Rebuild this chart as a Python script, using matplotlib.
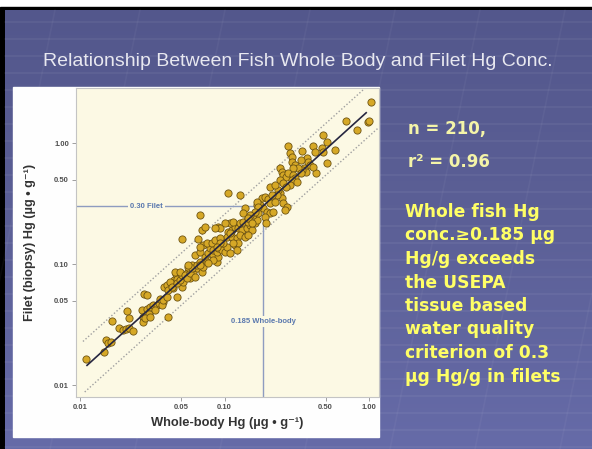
import numpy as np
import matplotlib.pyplot as plt
from matplotlib.patches import Rectangle
from matplotlib.colors import LinearSegmentedColormap
from matplotlib.ticker import NullLocator

# =========================
# Paired Hg samples (ug/g)
# =========================
whole_body = [
    0.0110, 0.0147, 0.0151, 0.0156, 0.0164, 0.0166, 0.0185, 0.0198, 0.0208, 0.0218,
    0.0233, 0.0211, 0.0218, 0.0268, 0.0273, 0.0273, 0.0291, 0.0305, 0.0320, 0.0300,
    0.0277, 0.0291, 0.0341, 0.0352, 0.0375, 0.0358, 0.0406, 0.0381, 0.0399, 0.0426,
    0.0440, 0.0447, 0.0461, 0.0469, 0.0469, 0.0508, 0.0516, 0.0549, 0.0576, 0.0605,
    0.0644, 0.0595, 0.0281, 0.0305, 0.0330, 0.0369, 0.0375, 0.0399, 0.0406, 0.0419,
    0.0433, 0.0469, 0.0492, 0.0508, 0.0454, 0.0492, 0.0532, 0.0549, 0.0576, 0.0624,
    0.0558, 0.0595, 0.0644, 0.0676, 0.0698, 0.0709, 0.0624, 0.0676, 0.0732, 0.0758,
    0.0770, 0.0795, 0.0709, 0.0758, 0.0820, 0.0860, 0.0833, 0.0887, 0.0901, 0.0833,
    0.0887, 0.0901, 0.0960, 0.101, 0.104, 0.0975, 0.0508, 0.0655, 0.0676, 0.0698,
    0.0676, 0.0732, 0.0901, 0.0930, 0.106, 0.113, 0.118, 0.124, 0.132, 0.143,
    0.151, 0.163, 0.168, 0.156, 0.109, 0.115, 0.128, 0.135, 0.145, 0.104,
    0.113, 0.122, 0.128, 0.139, 0.145, 0.118, 0.124, 0.139, 0.145, 0.168,
    0.158, 0.171, 0.106, 0.128, 0.0930, 0.0833, 0.0770, 0.0676, 0.0558, 0.0860,
    0.101, 0.109, 0.0930, 0.0887, 0.122, 0.109, 0.115, 1.03, 0.985, 1.00,
    0.828, 0.695, 0.582, 0.512, 0.481, 0.473, 0.481, 0.410, 0.512, 0.429,
    0.343, 0.275, 0.283, 0.292, 0.371, 0.377, 0.391, 0.410, 0.354, 0.365,
    0.343, 0.292, 0.307, 0.323, 0.297, 0.242, 0.250, 0.254, 0.267, 0.275,
    0.297, 0.307, 0.292, 0.317, 0.283, 0.338, 0.242, 0.254, 0.267, 0.207,
    0.242, 0.250, 0.254, 0.271, 0.263, 0.234, 0.230, 0.182, 0.191, 0.200,
    0.207, 0.213, 0.223, 0.176, 0.185, 0.197, 0.207, 0.216, 0.168, 0.171,
    0.163, 0.135, 0.151, 0.145, 0.191, 0.194, 0.156, 0.423, 0.338, 0.223,
]
filet = [
    0.0164, 0.0187, 0.0235, 0.0222, 0.0227, 0.0338, 0.0296, 0.0285, 0.0290, 0.0296,
    0.0279, 0.0409, 0.0358, 0.0416, 0.0365, 0.0331, 0.0424, 0.0441, 0.0458, 0.0386,
    0.0565, 0.0554, 0.0458, 0.0476, 0.0485, 0.0513, 0.0365, 0.0645, 0.0670, 0.0696,
    0.0633, 0.0737, 0.0826, 0.0752, 0.0533, 0.0645, 0.0710, 0.0843, 0.0766, 0.0859,
    0.0926, 0.0981, 0.0358, 0.0365, 0.0416, 0.0458, 0.0504, 0.0533, 0.0609, 0.0710,
    0.0645, 0.0696, 0.0737, 0.0811, 0.0859, 0.0859, 0.0811, 0.0766, 0.0843, 0.0781,
    0.0944, 0.0926, 0.0981, 0.104, 0.0859, 0.0944, 0.119, 0.126, 0.115, 0.104,
    0.124, 0.136, 0.144, 0.150, 0.150, 0.158, 0.119, 0.104, 0.115, 0.131,
    0.126, 0.136, 0.131, 0.126, 0.139, 0.150, 0.161, 0.161, 0.139, 0.191,
    0.254, 0.202, 0.202, 0.198, 0.184, 0.191, 0.202, 0.198, 0.191, 0.198,
    0.210, 0.218, 0.231, 0.191, 0.218, 0.222, 0.218, 0.222, 0.222, 0.167,
    0.167, 0.164, 0.174, 0.167, 0.174, 0.144, 0.150, 0.291, 0.240, 0.308,
    0.254, 0.264, 0.387, 0.372, 0.164, 0.108, 0.102, 0.0981, 0.0981, 0.198,
    0.218, 0.181, 0.150, 0.139, 0.131, 0.124, 0.150, 2.19, 1.49, 1.52,
    1.29, 1.52, 0.877, 1.02, 1.17, 0.910, 0.844, 0.946, 0.685, 0.566,
    0.860, 0.946, 0.828, 0.767, 0.752, 0.698, 0.659, 0.634, 0.622, 0.577,
    0.599, 0.698, 0.659, 0.622, 0.622, 0.622, 0.577, 0.545, 0.525, 0.566,
    0.545, 0.515, 0.496, 0.477, 0.450, 0.566, 0.496, 0.468, 0.433, 0.433,
    0.387, 0.351, 0.320, 0.296, 0.280, 0.409, 0.372, 0.351, 0.358, 0.344,
    0.320, 0.372, 0.326, 0.308, 0.291, 0.269, 0.264, 0.269, 0.326, 0.296,
    0.269, 0.264, 0.254, 0.240, 0.245, 0.218, 0.218, 0.844, 0.725, 0.450,
]

# regression line and prediction band end points
fit_x = [0.0112, 0.954]
fit_y = [0.0146, 1.78]
upper_x = [0.0105, 0.97]
upper_y = [0.0230, 2.95]
lower_x = [0.0108, 1.17]
lower_y = [0.0088, 1.35]

# USEPA criterion and equivalent whole-body value
wb_criterion = 0.185
filet_criterion = 0.30

tick_vals = [0.01, 0.05, 0.10, 0.50, 1.00]
tick_labels = ["0.01", "0.05", "0.10", "0.50", "1.00"]

notes = [
    "Whole fish Hg",
    "conc.\u22650.185 \u00b5g",
    "Hg/g exceeds",
    "the USEPA",
    "tissue based",
    "water quality",
    "criterion of 0.3",
    "\u00b5g Hg/g in filets",
]

W, H = 592, 449
cream = "#fcf9e4"
sans = ["Liberation Sans", "DejaVu Sans"]

fig = plt.figure(figsize=(W / 100, H / 100), dpi=100)
fig.patch.set_facecolor("white")

# -------------------------
# Slide background
# -------------------------
bg = fig.add_axes([0, 0, 1, 1])
bg.set_xlim(0, W)
bg.set_ylim(H, 0)
bg.axis("off")
bg.add_patch(Rectangle((0, 7), W, H - 7, color="black", zorder=0))
grad = np.linspace(0, 1, 256).reshape(-1, 1)
slide_cmap = LinearSegmentedColormap.from_list("slide", ["#53578c", "#5c6097", "#666ba8"])
bg.imshow(grad, extent=(5, W, H, 10), cmap=slide_cmap, aspect="auto", zorder=1)

# faint grid on the slide
for y in np.arange(22, H, 17):
    bg.plot([5, W], [y, y], color="white", alpha=0.06, lw=1.2, zorder=1.5)
for x0 in np.arange(-120, W + 200, 85):
    bg.plot([x0, x0 + 90], [H, 10], color="white", alpha=0.04, lw=1.2, zorder=1.5)

# white panel holding the chart
bg.add_patch(Rectangle((13, 87), 366, 350, color="#fefefe", zorder=2))

fig.text(298 / W, 1 - 62 / H, "Relationship Between Fish Whole Body and Filet Hg Conc.",
         ha="center", va="center", fontsize=14, color="#e8e8f0", family=sans)

# -------------------------
# Scatter plot
# -------------------------
ax = fig.add_axes([76 / W, 1 - 397 / H, 303 / W, 309 / H])
ax.set_facecolor(cream)
ax.set_xscale("log")
ax.set_yscale("log")
ax.set_xlim(0.0094, 1.17)
ax.set_ylim(0.0080, 2.85)

ax.plot(upper_x, upper_y, color="#a0a0a0", lw=1, ls=(0, (1, 1.5)), zorder=2)
ax.plot(lower_x, lower_y, color="#a0a0a0", lw=1, ls=(0, (1, 1.5)), zorder=2)

xmin = ax.get_xlim()[0]
ymin = ax.get_ylim()[0]
ax.hlines(filet_criterion, xmin, wb_criterion, color="#8e9cc0", lw=1, zorder=2)
ax.vlines(wb_criterion, ymin, filet_criterion, color="#8e9cc0", lw=1, zorder=2)

ax.scatter(whole_body, filet, s=27, facecolor="#d6a826", edgecolor="#6e5412",
           linewidth=0.6, zorder=3)
ax.plot(fit_x, fit_y, color="#262640", lw=1.2, zorder=4)

ax.text(0.029, filet_criterion, "0.30 Filet", ha="center", va="center", fontsize=5.5,
        color="#5a78ae", fontweight="bold", family=sans,
        bbox=dict(facecolor=cream, edgecolor="none", pad=1.5), zorder=5)
ax.text(wb_criterion, 0.0338, "0.185 Whole-body", ha="center", va="center", fontsize=5.5,
        color="#5a78ae", fontweight="bold", family=sans,
        bbox=dict(facecolor=cream, edgecolor="none", pad=1.5), zorder=5)

ax.set_xticks(tick_vals)
ax.set_xticklabels(tick_labels)
ax.set_yticks(tick_vals)
ax.set_yticklabels(tick_labels)
ax.xaxis.set_minor_locator(NullLocator())
ax.yaxis.set_minor_locator(NullLocator())
ax.tick_params(direction="out", length=3, width=0.6, color="#909090",
               labelsize=5.5, labelcolor="#505050", pad=2)
for lab in ax.get_xticklabels() + ax.get_yticklabels():
    lab.set_fontweight("bold")
    lab.set_family(sans)
for sp in ax.spines.values():
    sp.set_color("#c4c4c4")
    sp.set_linewidth(0.8)

fig.text(227 / W, 1 - 423 / H, "Whole-body Hg (\u00b5g \u2022 g\u207b\u00b9)",
         ha="center", va="center", fontsize=9.3, fontweight="bold", color="#333333", family=sans)
fig.text(30 / W, 1 - 242 / H, "Filet (biopsy) Hg (\u00b5g \u2022 g\u207b\u00b9)",
         ha="center", va="center", rotation=90, fontsize=9.2, fontweight="bold",
         color="#333333", family=sans)

# -------------------------
# Notes on the right
# -------------------------
note_font = ["DejaVu Sans"]
fig.text(408 / W, 1 - 129 / H, "n = 210,", ha="left", va="center", fontsize=12,
         fontweight="bold", color="#f4f4a8", family=note_font)
fig.text(408 / W, 1 - 162 / H, "r\u00b2 = 0.96", ha="left", va="center", fontsize=12,
         fontweight="bold", color="#f4f4a8", family=note_font)
for i, line in enumerate(notes):
    fig.text(405 / W, 1 - (212 + i * 23.5) / H, line, ha="left", va="center", fontsize=12.3,
             fontweight="bold", color="#ffff66", family=note_font)

fig.savefig("out.png", dpi=100)
